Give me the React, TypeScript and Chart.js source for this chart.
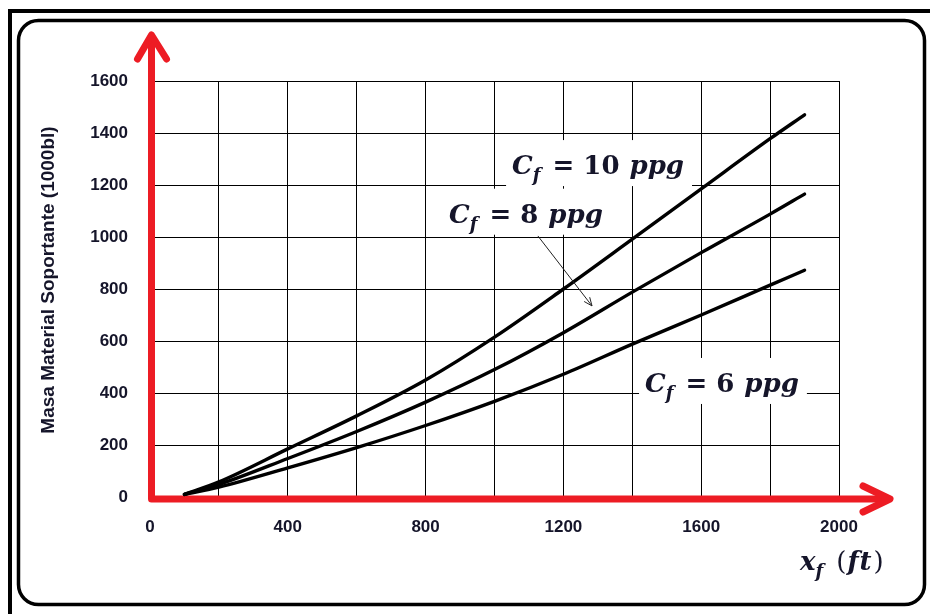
import { useEffect, useRef } from 'react';
import { Chart, registerables } from 'chart.js';

Chart.register(...registerables);

// Fracture half-length (ft) at which each curve is sampled
const depthFt = [100, 200, 400, 600, 800, 1000, 1200, 1400, 1600, 1800, 1900];
// Proppant mass (1000 lb) for each proppant concentration
const mass10ppg = [10, 58, 185, 312, 450, 615, 800, 992, 1185, 1378, 1470];
const mass8ppg = [10, 48, 148, 252, 365, 490, 632, 788, 940, 1088, 1165];
const mass6ppg = [10, 38, 112, 190, 275, 368, 472, 588, 700, 815, 872];

// Axis ticks: grid every 200, x labels every 400
const xLabelValues = [0, 400, 800, 1200, 1600, 2000];
const yTickValues = [0, 200, 400, 600, 800, 1000, 1200, 1400, 1600];

// Curve labels (concentration, anchor in data units: left edge / baseline)
const labelConc = ['10', '8', '6'];
const labelX = [1051, 868, 1437];
const labelY = [1242, 1055, 404];

// Pointer from the 8 ppg label to its curve (data units)
const pointerFrom = [1126, 1004];
const pointerTo = [1283, 735];

const yTitle = 'Masa Material Soportante (1000bl)';

const RED = '#ed1c24';
const INK = '#15152a';
const SERIF = '"DejaVu Serif"';

type Piece = { text: string; font: string; dx: number; dy: number };

function layoutPieces(ctx: CanvasRenderingContext2D, parts: { text: string; font: string; dy?: number; gap?: number }[]) {
  const out: Piece[] = [];
  let cx = 0;
  for (const p of parts) {
    ctx.font = p.font;
    out.push({ text: p.text, font: p.font, dx: cx, dy: p.dy || 0 });
    cx += ctx.measureText(p.text).width + (p.gap || 0);
  }
  return { pieces: out, width: cx };
}

function cfParts(conc: string) {
  const s = 26;
  return [
    { text: 'C', font: `italic bold ${s}px ${SERIF}` },
    { text: 'f', font: `italic bold 18px ${SERIF}`, dy: 7, gap: 12 },
    { text: '=', font: `bold ${s}px ${SERIF}`, gap: 9 },
    { text: conc, font: `bold ${s}px ${SERIF}`, gap: 10 },
    { text: 'ppg', font: `italic bold ${s}px ${SERIF}` },
  ];
}

function drawPieces(ctx: CanvasRenderingContext2D, pieces: Piece[], x: number, y: number) {
  ctx.fillStyle = INK;
  ctx.textAlign = 'left';
  ctx.textBaseline = 'alphabetic';
  for (const p of pieces) {
    ctx.font = p.font;
    ctx.fillText(p.text, x + p.dx, y + p.dy);
  }
}

const decorPlugin = {
  id: 'decor',
  beforeDraw(chart: any) {
    const { ctx, width, height } = chart;
    ctx.save();
    ctx.fillStyle = '#fff';
    ctx.fillRect(0, 0, width, height);
    // outer frame (open to the right and bottom)
    ctx.strokeStyle = '#000';
    ctx.lineWidth = 4;
    ctx.beginPath();
    ctx.moveTo(10, height);
    ctx.lineTo(10, 11);
    ctx.lineTo(width, 11);
    ctx.stroke();
    // inner rounded panel
    ctx.lineWidth = 3.5;
    ctx.beginPath();
    ctx.roundRect(18.5, 20.5, 906, 584, 20);
    ctx.stroke();
    ctx.restore();
  },
  beforeDatasetsDraw(chart: any) {
    const { ctx, chartArea, scales } = chart;
    const xs = scales.x;
    const ys = scales.y;
    ctx.save();
    // white boxes behind the curve labels
    labelConc.forEach((c, i) => {
      const { width } = layoutPieces(ctx, cfParts(c));
      const lx = xs.getPixelForValue(labelX[i]);
      const ly = ys.getPixelForValue(labelY[i]);
      ctx.fillStyle = '#fff';
      ctx.fillRect(lx - 6, ly - 34, width + 14, 46);
    });
    // red axes with arrow heads
    const x0 = xs.getPixelForValue(0) + 1.5;
    const y0 = ys.getPixelForValue(0) + 2;
    const topTip = chartArea.top - 46;
    const rightTip = chartArea.right + 51;
    ctx.strokeStyle = RED;
    ctx.lineWidth = 7;
    ctx.lineCap = 'round';
    ctx.lineJoin = 'round';
    ctx.beginPath();
    ctx.moveTo(x0, topTip + 2);
    ctx.lineTo(x0, y0);
    ctx.lineTo(rightTip - 2, y0);
    ctx.stroke();
    ctx.beginPath();
    ctx.moveTo(x0 - 14, topTip + 24);
    ctx.lineTo(x0, topTip);
    ctx.lineTo(x0 + 15, topTip + 24);
    ctx.stroke();
    ctx.beginPath();
    ctx.moveTo(rightTip - 27, y0 - 13);
    ctx.lineTo(rightTip, y0);
    ctx.lineTo(rightTip - 27, y0 + 13);
    ctx.stroke();
    ctx.restore();
  },
  afterDatasetsDraw(chart: any) {
    const { ctx, chartArea, scales } = chart;
    const xs = scales.x;
    const ys = scales.y;
    ctx.save();
    // curve labels
    labelConc.forEach((c, i) => {
      const { pieces } = layoutPieces(ctx, cfParts(c));
      drawPieces(ctx, pieces, xs.getPixelForValue(labelX[i]), ys.getPixelForValue(labelY[i]));
    });
    // pointer arrow for the 8 ppg curve
    const ax = xs.getPixelForValue(pointerFrom[0]);
    const ay = ys.getPixelForValue(pointerFrom[1]);
    const bx = xs.getPixelForValue(pointerTo[0]);
    const by = ys.getPixelForValue(pointerTo[1]);
    const ang = Math.atan2(by - ay, bx - ax);
    ctx.strokeStyle = '#222';
    ctx.lineWidth = 1;
    ctx.beginPath();
    ctx.moveTo(ax, ay);
    ctx.lineTo(bx, by);
    ctx.moveTo(bx - 9 * Math.cos(ang - 0.4), by - 9 * Math.sin(ang - 0.4));
    ctx.lineTo(bx, by);
    ctx.lineTo(bx - 9 * Math.cos(ang + 0.4), by - 9 * Math.sin(ang + 0.4));
    ctx.stroke();
    // x axis title
    const xt = layoutPieces(ctx, [
      { text: 'x', font: `italic bold 26px ${SERIF}` },
      { text: 'f', font: `italic bold 18px ${SERIF}`, dy: 7, gap: 13 },
      { text: '(', font: `26px ${SERIF}`, gap: 1 },
      { text: 'f', font: `italic bold 26px ${SERIF}`, gap: 1 },
      { text: 't', font: `italic bold 26px ${SERIF}`, gap: 2 },
      { text: ')', font: `26px ${SERIF}` },
    ]);
    drawPieces(ctx, xt.pieces, chartArea.right - 39, chartArea.bottom + 73);
    // y axis title
    ctx.translate(chartArea.left - 101, (chartArea.top + chartArea.bottom) / 2 - 9);
    ctx.rotate(-Math.PI / 2);
    ctx.fillStyle = INK;
    ctx.font = 'bold 19px "Liberation Sans", Arial, sans-serif';
    ctx.textAlign = 'center';
    ctx.textBaseline = 'middle';
    ctx.fillText(yTitle, 0, 0);
    ctx.restore();
  },
};

export default function App() {
  const ref = useRef<HTMLCanvasElement | null>(null);

  useEffect(() => {
    const canvas = ref.current;
    if (!canvas) return;
    const tickFont = { family: '"Liberation Sans", Arial, sans-serif', size: 17, weight: 'bold' as const };
    const curve = (label: string, values: number[]) => ({
      label,
      data: depthFt.map((x, i) => ({ x, y: values[i] })),
      borderColor: '#000',
      borderWidth: 3.4,
      pointRadius: 0,
      cubicInterpolationMode: 'monotone' as const,
      borderCapStyle: 'round' as const,
      fill: false,
    });
    const chart = new Chart(canvas, {
      type: 'line',
      data: {
        datasets: [
          curve('Cf = 10 ppg', mass10ppg),
          curve('Cf = 8 ppg', mass8ppg),
          curve('Cf = 6 ppg', mass6ppg),
        ],
      },
      options: {
        responsive: false,
        animation: false,
        devicePixelRatio: 1,
        layout: { padding: { left: 0, top: 81, right: 91, bottom: 0 } },
        plugins: { legend: { display: false }, tooltip: { enabled: false } },
        scales: {
          x: {
            type: 'linear',
            min: 0,
            max: 2000,
            afterFit: (s: any) => {
              s.height = 117;
            },
            grid: { color: '#000', lineWidth: 1, drawTicks: false },
            border: { display: false },
            ticks: {
              stepSize: 200,
              autoSkip: false,
              maxRotation: 0,
              padding: 20,
              color: INK,
              font: tickFont,
              callback: (v: any) => (xLabelValues.includes(Number(v)) ? String(v) : ''),
            },
          },
          y: {
            type: 'linear',
            min: 0,
            max: 1600,
            afterFit: (s: any) => {
              s.width = 150;
            },
            grid: { color: '#000', lineWidth: 1, drawTicks: false },
            border: { display: false },
            ticks: {
              stepSize: 200,
              autoSkip: false,
              padding: 22,
              color: INK,
              font: tickFont,
              callback: (v: any) => (yTickValues.includes(Number(v)) ? String(v) : ''),
            },
          },
        },
      },
      plugins: [decorPlugin],
    });
    return () => chart.destroy();
  }, []);

  return (
    <div style={{ position: 'fixed', left: 0, top: 0, width: 930, height: 614, background: '#fff' }}>
      <canvas ref={ref} width={930} height={614} style={{ display: 'block' }} />
    </div>
  );
}
